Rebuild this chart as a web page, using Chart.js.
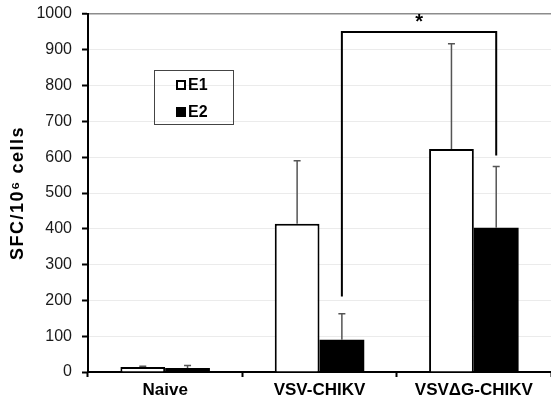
<!DOCTYPE html>
<html lang="en">
<head>
    <meta charset="UTF-8">
    <title>SFC per 10^6 cells</title>
    <script src="https://cdn.jsdelivr.net/npm/chart.js"></script>
    <style>
        html, body { margin: 0; padding: 0; background: #fff; }
        #wrap { width: 551px; height: 401px; }
    </style>
</head>
<body>
<div id="wrap"><canvas id="myChart" width="551" height="401"></canvas></div>
<script>
    // data
    const categories = ['Naive', 'VSV-CHIKV', 'VSV\u0394G-CHIKV'];
    const seriesNames = ['E1', 'E2'];
    const e1Values = [14, 414, 623];
    const e1Errors = [2, 176, 294];
    const e2Values = [11, 90, 403];
    const e2Errors = [7, 73, 171];
    const yMax = 1000;
    const yStep = 100;
    const yTitle = 'SFC/10\u2076 cells';
    // significance bracket: E2 of VSV-CHIKV vs E2 of VSVdG-CHIKV
    const bracketCategories = [1, 2];
    const bracketLevels = [211, 950, 605]; // left foot, top, right foot
    const bracketLabel = '*';

    const errors = [e1Errors, e2Errors];

    const errorBars = {
        id: 'errorBars',
        afterDatasetsDraw(chart) {
            const ctx = chart.ctx;
            const y = chart.scales.y;
            ctx.save();
            ctx.strokeStyle = '#555';
            ctx.lineWidth = 1.5;
            chart.data.datasets.forEach((ds, d) => {
                const meta = chart.getDatasetMeta(d);
                meta.data.forEach((bar, i) => {
                    const top = y.getPixelForValue(ds.data[i] + errors[d][i]);
                    ctx.beginPath();
                    ctx.moveTo(bar.x, bar.y);
                    ctx.lineTo(bar.x, top);
                    ctx.moveTo(bar.x - 3.5, top);
                    ctx.lineTo(bar.x + 3.5, top);
                    ctx.stroke();
                });
            });
            ctx.restore();
        }
    };

    const bracket = {
        id: 'bracket',
        afterDatasetsDraw(chart) {
            const ctx = chart.ctx;
            const y = chart.scales.y;
            const meta = chart.getDatasetMeta(1);
            const x1 = meta.data[bracketCategories[0]].x;
            const x2 = meta.data[bracketCategories[1]].x;
            const yTop = y.getPixelForValue(bracketLevels[1]);
            ctx.save();
            ctx.strokeStyle = '#000';
            ctx.lineWidth = 2;
            ctx.beginPath();
            ctx.moveTo(x1, y.getPixelForValue(bracketLevels[0]));
            ctx.lineTo(x1, yTop);
            ctx.lineTo(x2, yTop);
            ctx.lineTo(x2, y.getPixelForValue(bracketLevels[2]));
            ctx.stroke();
            ctx.fillStyle = '#000';
            ctx.font = 'bold 20px "Liberation Sans", Arial, sans-serif';
            ctx.textAlign = 'center';
            ctx.textBaseline = 'middle';
            ctx.fillText(bracketLabel, (x1 + x2) / 2, yTop - 9);
            ctx.restore();
        }
    };

    const boxLegend = {
        id: 'boxLegend',
        afterDraw(chart) {
            const ctx = chart.ctx;
            ctx.save();
            ctx.strokeStyle = '#444';
            ctx.lineWidth = 1;
            ctx.strokeRect(154.5, 70.5, 79, 54);
            ctx.font = 'bold 16px "Liberation Sans", Arial, sans-serif';
            ctx.textBaseline = 'middle';
            ctx.textAlign = 'left';
            chart.data.datasets.forEach((ds, d) => {
                const cy = 85 + d * 27;
                if (d === 0) {
                    ctx.fillStyle = '#fff';
                    ctx.fillRect(177, cy - 4, 8, 8);
                    ctx.lineWidth = 2;
                    ctx.strokeStyle = '#000';
                    ctx.strokeRect(177, cy - 4, 8, 8);
                } else {
                    ctx.fillStyle = '#000';
                    ctx.fillRect(176, cy - 5, 10, 10);
                }
                ctx.fillStyle = '#000';
                ctx.fillText(seriesNames[d], 188, cy + 1);
            });
            ctx.restore();
        }
    };

    const axisTitle = {
        id: 'axisTitle',
        afterDraw(chart) {
            const ctx = chart.ctx;
            const area = chart.chartArea;
            ctx.save();
            ctx.translate(18, (area.top + area.bottom) / 2);
            ctx.rotate(-Math.PI / 2);
            ctx.font = 'bold 18px "Liberation Sans", Arial, sans-serif';
            ctx.letterSpacing = '1.5px';
            ctx.fillStyle = '#000';
            ctx.textAlign = 'center';
            ctx.textBaseline = 'middle';
            ctx.fillText(yTitle, 0, 0);
            ctx.restore();
        }
    };

    const ctx = document.getElementById('myChart').getContext('2d');
    const myChart = new Chart(ctx, {
        type: 'bar',
        data: {
            labels: categories,
            datasets: [{
                label: seriesNames[0],
                data: e1Values,
                backgroundColor: '#fff',
                borderColor: '#000',
                borderWidth: 2,
                categoryPercentage: 0.58,
                barPercentage: 1.0
            }, {
                label: seriesNames[1],
                data: e2Values,
                backgroundColor: '#000',
                borderColor: '#000',
                borderWidth: 0,
                categoryPercentage: 0.58,
                barPercentage: 1.0
            }]
        },
        options: {
            responsive: false,
            animation: false,
            layout: { padding: { top: 14, right: 0, left: 0, bottom: 0 } },
            plugins: {
                legend: { display: false },
                tooltip: { enabled: false }
            },
            scales: {
                x: {
                    afterFit: s => { s.height = 29; },
                    grid: {
                        drawOnChartArea: false,
                        tickLength: 5,
                        tickColor: '#000',
                        tickWidth: 2
                    },
                    border: { color: '#000', width: 2 },
                    ticks: {
                        color: '#000',
                        padding: 3,
                        font: { family: '"Liberation Sans", Arial, sans-serif', size: 17, weight: 'bold' }
                    }
                },
                y: {
                    min: 0,
                    max: yMax,
                    afterFit: s => { s.width = 88; s.paddingTop = 0; s.paddingBottom = 0; },
                    grid: {
                        color: c => (c.tick && c.tick.value === yMax) ? '#8c8c8c' : '#ebebeb',
                        lineWidth: c => (c.tick && c.tick.value === yMax) ? 1.5 : 1,
                        tickLength: 6,
                        tickColor: '#000',
                        tickWidth: 2
                    },
                    border: { color: '#000', width: 2 },
                    ticks: {
                        stepSize: yStep,
                        color: '#1a1a1a',
                        padding: 10,
                        callback: v => String(v),
                        font: { family: '"Liberation Sans", Arial, sans-serif', size: 16 }
                    }
                }
            }
        },
        plugins: [errorBars, bracket, boxLegend, axisTitle]
    });
</script>
</body>
</html>
